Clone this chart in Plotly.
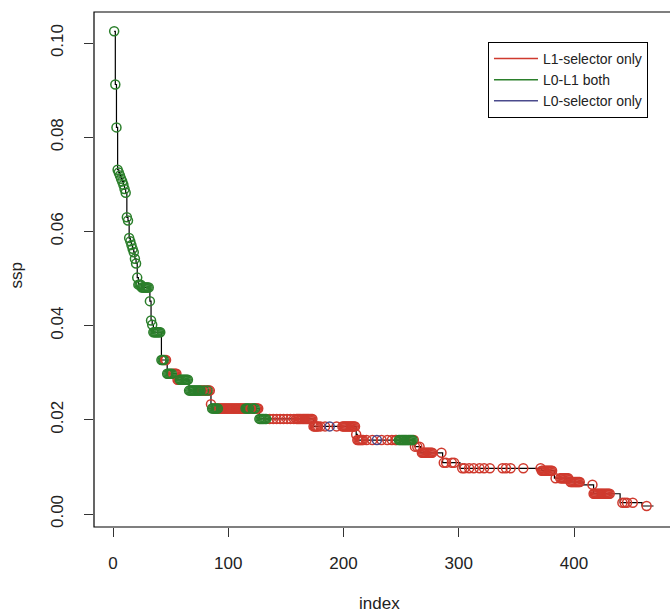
import plotly.graph_objects as go

# Step line: sorted ssp values as (level, run length)
ssp_levels = [0.1025, 0.0912, 0.0821, 0.0731, 0.0725, 0.0719, 0.0712, 0.0706, 0.0699,
              0.0690, 0.0682, 0.0630, 0.0623, 0.0586, 0.0579, 0.0571, 0.0563, 0.0556,
              0.0542, 0.0532, 0.0502, 0.0487, 0.0481, 0.0452, 0.0411, 0.0402, 0.0386,
              0.0327, 0.0298, 0.0285, 0.0262, 0.0233, 0.0224, 0.0202, 0.0186, 0.0169,
              0.0157, 0.0143, 0.0130, 0.0109, 0.0097, 0.0092, 0.0076, 0.0068, 0.0062,
              0.0043, 0.0024, 0.0017]
ssp_counts = [1, 1, 1, 1, 1, 1, 1, 1, 1, 1, 1, 1, 1, 1, 1, 1, 1, 1, 1, 1, 1,
              3, 7, 1, 1, 1, 7, 5, 9, 10, 19, 1, 41, 47, 37, 1, 50, 5, 19, 15,
              71, 11, 14, 11, 9, 23, 19, 11]

# Marked indices per selector category (runs of indices, inclusive)
both_runs = [(1, 44), (47, 51), (58, 76), (79, 79), (82, 82), (86, 91), (115, 118),
             (121, 123), (127, 133), (248, 260)]
l1_runs = [(45, 46), (52, 57), (77, 78), (80, 81), (83, 85), (92, 114), (119, 120),
           (124, 126), (136, 136), (139, 139), (142, 142), (145, 145), (148, 148),
           (151, 151), (154, 154), (157, 157), (159, 178), (180, 180), (184, 184),
           (194, 194), (199, 217), (220, 220), (225, 225), (233, 233), (238, 238),
           (242, 242), (245, 246), (261, 262), (264, 264), (266, 266), (268, 277),
           (285, 285), (287, 287), (289, 289), (294, 294), (296, 296), (303, 303),
           (305, 305), (309, 309), (313, 313), (318, 318), (322, 322), (327, 327),
           (338, 338), (341, 341), (345, 345), (356, 356), (371, 381), (384, 384),
           (388, 395), (397, 405), (416, 431), (442, 442), (444, 444), (446, 446),
           (451, 451), (463, 463)]
l0_runs = [(188, 188), (229, 229)]

series_names = ["L1-selector only", "L0-L1 both", "L0-selector only"]
series_colors = ["#cf3a2e", "#2b7f2b", "#4a4a8c"]

# expand step data
ssp = []
for lv, c in zip(ssp_levels, ssp_counts):
    ssp.extend([lv] * c)
index = list(range(1, len(ssp) + 1))


def expand(runs):
    out = []
    for a, b in runs:
        out.extend(range(a, b + 1))
    return out


fig = go.Figure()
fig.add_trace(go.Scatter(x=index, y=ssp, mode="lines", line=dict(color="black", width=1.2, shape="hv"),
                         showlegend=False, hoverinfo="skip"))

for runs, name, col in zip([l1_runs, both_runs, l0_runs], series_names, series_colors):
    idx = expand(runs)
    fig.add_trace(go.Scatter(x=idx, y=[ssp[i - 1] for i in idx], mode="markers",
                             marker=dict(symbol="circle-open", size=9, color=col, line=dict(width=1.5, color=col)),
                             showlegend=False, name=name))

for name, col in zip(series_names, series_colors):
    fig.add_trace(go.Scatter(x=[None], y=[None], mode="lines", line=dict(color=col, width=1.5), name=name))

font_family = "Liberation Sans, Arial, sans-serif"
fig.update_layout(
    width=670, height=615,
    margin=dict(l=94, r=0, t=12, b=88),
    plot_bgcolor="white", paper_bgcolor="white",
    font=dict(family=font_family, size=17, color="#222"),
    legend=dict(x=0.684, y=0.942, xanchor="left", yanchor="top", bordercolor="black", borderwidth=1,
                bgcolor="white", font=dict(size=14, color="#222"), tracegroupgap=0,
                itemwidth=44),
    xaxis=dict(range=[-16.5, 483.3], tickvals=[0, 100, 200, 300, 400], ticks="outside", ticklen=9,
               tickcolor="#333", showgrid=False, zeroline=False, showline=False, ticklabelstandoff=12),
    yaxis=dict(range=[-0.00276, 0.1066], tickvals=[0, 0.02, 0.04, 0.06, 0.08, 0.10], tickformat=".2f",
               tickangle=-90, ticks="outside", ticklen=9, tickcolor="#333", showgrid=False, zeroline=False,
               showline=False, ticklabelstandoff=14),
    shapes=[dict(type="rect", xref="paper", yref="paper", x0=0, x1=1.02, y0=0, y1=1,
                 line=dict(color="black", width=1.2))],
    annotations=[
        dict(text="index", xref="paper", yref="paper", x=0.4965, y=-0.1476, showarrow=False,
             xanchor="center", yanchor="middle", font=dict(size=17)),
        dict(text="ssp", xref="paper", yref="paper", x=-0.135, y=0.489, showarrow=False, textangle=-90,
             xanchor="center", yanchor="middle", font=dict(size=17)),
    ],
)

fig.write_html("out.html")
